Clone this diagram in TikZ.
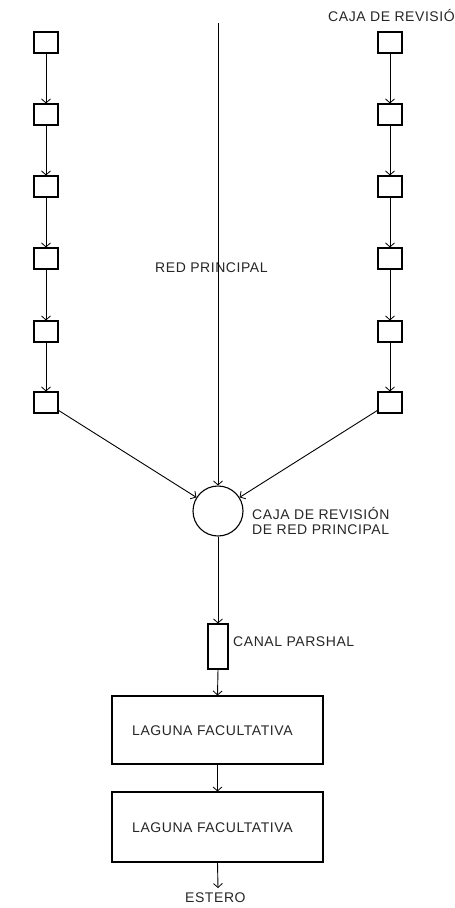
\documentclass[tikz,border=0pt]{standalone}
\usepackage{fontspec}
\setmainfont[LetterSpace=4]{Liberation Sans}
\usetikzlibrary{arrows.meta}
\begin{document}
\begin{tikzpicture}[x=1pt,y=-1pt,
  sbox/.style={draw,line width=1.1pt,minimum width=24pt,minimum height=21pt,inner sep=0pt},
  rbox/.style={draw,line width=1.1pt,inner sep=0pt},
  conn/.style={line width=0.9pt,-{Straight Barb[length=4pt,width=9pt,line width=0.8pt]}},
  lbl/.style={anchor=west,inner sep=0pt,font=\fontsize{14}{14.5}\selectfont,text=black!85}]
\useasboundingbox (0,0) rectangle (455,908);
% left and right chains
\foreach \i/\y in {1/42.5,2/114.5,3/186.5,4/258.5,5/331.5,6/402.5}{
  \node[sbox] (L\i) at (46,\y) {};
  \node[sbox] (R\i) at (390,\y) {};
}
\foreach \i/\j in {1/2,2/3,3/4,4/5,5/6}{
  \draw[conn] (L\i.south) -- (L\j.north);
  \draw[conn] (R\i.south) -- (R\j.north);
}
% labels
\node[lbl] (lcaja) at (328,15) {CAJA DE REVISIÓN};
\node[lbl] (lred) at (155,268) {RED PRINCIPAL};
% main line and circle
\coordinate (top) at (218,23);
\node[draw,circle,line width=1.1pt,minimum size=50pt,inner sep=0pt] (c) at (218,511) {};
\draw[conn] (top) -- (c.north);
\draw[conn] (L6) -- (c);
\draw[conn] (R6) -- (c);
\node[lbl,align=left] (lc) at (252,521) {CAJA DE REVISIÓN\\DE RED PRINCIPAL};
% parshal
\node[rbox,minimum width=20pt,minimum height=45pt] (p) at (218,646.5) {};
\node[lbl] (lp) at (233,642) {CANAL PARSHAL};
\draw[conn] (c.south) -- (p.north);
% lagunas
\node[rbox,minimum width=211pt,minimum height=68pt] (g1) at (217.5,730) {};
\node[rbox,minimum width=211pt,minimum height=70pt] (g2) at (217.5,827) {};
\node[lbl] (t1) at (132,731) {LAGUNA FACULTATIVA};
\node[lbl] (t2) at (132,828) {LAGUNA FACULTATIVA};
\draw[conn] (p.south) -- (g1.north);
\draw[conn] (g1.south) -- (g2.north);
\coordinate (e) at (218,888);
\draw[conn] (g2.south) -- (e);
\node[lbl] (est) at (185,898) {ESTERO};
\end{tikzpicture}
\end{document}
